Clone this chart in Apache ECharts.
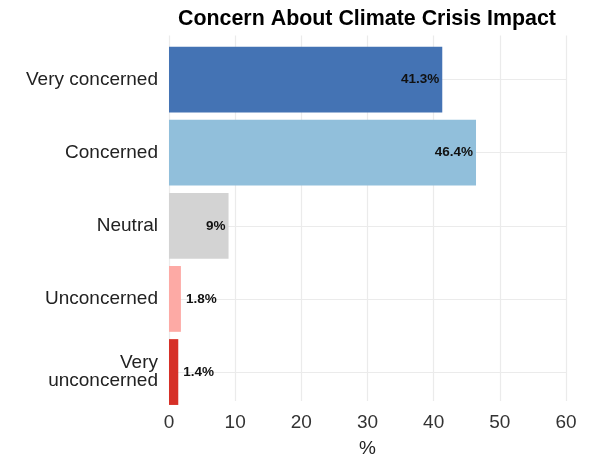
<!DOCTYPE html>
<html>
<head>
<meta charset="utf-8">
<script src="https://cdn.jsdelivr.net/npm/echarts@6/dist/echarts.min.js"></script>
<style>
  html, body { margin: 0; padding: 0; background: #ffffff; }
  #chart { width: 594px; height: 463px; }
</style>
</head>
<body>
<div id="chart"></div>
<script>
// Survey answers, top to bottom
const categories = ['Very concerned', 'Concerned', 'Neutral', 'Unconcerned', 'Very\nunconcerned'];
// Share of respondents, %
const shares = [41.3, 46.4, 9, 1.8, 1.4];
// x-axis ticks
const xTicks = [0, 10, 20, 30, 40, 50, 60];

const palette = ['#4473b4', '#91bfdb', '#d3d3d3', '#fdaaa5', '#d63027'];
const FONT = '"Liberation Sans", Arial, Helvetica, sans-serif';

const chart = echarts.init(document.getElementById('chart'), null, { renderer: 'canvas' });

// outer panel (gridlines) and inner band area (bars + category labels)
const panel = { left: 169, right: 28, top: 35.6, bottom: 47.1 };
const band = { left: 169, right: 28, top: 43, bottom: 54.4 };

chart.setOption({
  animation: false,
  backgroundColor: '#ffffff',
  title: {
    text: 'Concern About Climate Crisis Impact',
    left: 173,
    top: 4,
    textStyle: { fontFamily: FONT, fontWeight: 'bold', fontSize: 21.4, color: '#000000' }
  },
  grid: [
    Object.assign({ containLabel: false }, panel),
    Object.assign({ containLabel: false }, band)
  ],
  xAxis: [
    {
      gridIndex: 0, type: 'value',
      min: xTicks[0], max: xTicks[xTicks.length - 1], interval: 10,
      name: '%', nameLocation: 'middle', nameGap: 38,
      nameTextStyle: { fontFamily: FONT, fontSize: 19, color: '#222222' },
      axisLine: { show: false }, axisTick: { show: false },
      axisLabel: { fontFamily: FONT, fontSize: 19, color: '#333333', margin: 12 },
      splitLine: { show: true, lineStyle: { color: '#ebebeb', width: 1.2 } }
    },
    {
      gridIndex: 1, type: 'value',
      min: xTicks[0], max: xTicks[xTicks.length - 1], interval: 10,
      show: false, splitLine: { show: false }
    }
  ],
  yAxis: [
    {
      gridIndex: 0, type: 'value', show: false,
      splitLine: { show: false }
    },
    {
      gridIndex: 1, type: 'category', data: categories, inverse: true,
      axisLine: { show: false }, axisTick: { show: false },
      splitLine: { show: false },
      axisLabel: {
        fontFamily: FONT, fontSize: 19, color: '#222222', margin: 11,
        lineHeight: 18, align: 'right'
      }
    }
  ],
  series: [
    {
      type: 'bar',
      xAxisIndex: 1, yAxisIndex: 1,
      barWidth: '90%',
      z: 3,
      data: shares.map((v, i) => ({
        value: v,
        itemStyle: { color: palette[i] },
        label: v < 5
          ? { position: 'right', distance: 5 }
          : { position: 'insideRight', distance: 3 }
      })),
      label: {
        show: true,
        formatter: p => p.value + '%',
        fontFamily: FONT, fontWeight: 'bold', fontSize: 13.5, color: '#111111'
      },
      markLine: {
        silent: true,
        z: 1,
        symbol: ['none', 'none'],
        label: { show: false },
        lineStyle: { type: 'solid', color: '#ebebeb', width: 1.2 },
        data: categories.map(c => ({ yAxis: c }))
      }
    }
  ]
});
</script>
</body>
</html>
